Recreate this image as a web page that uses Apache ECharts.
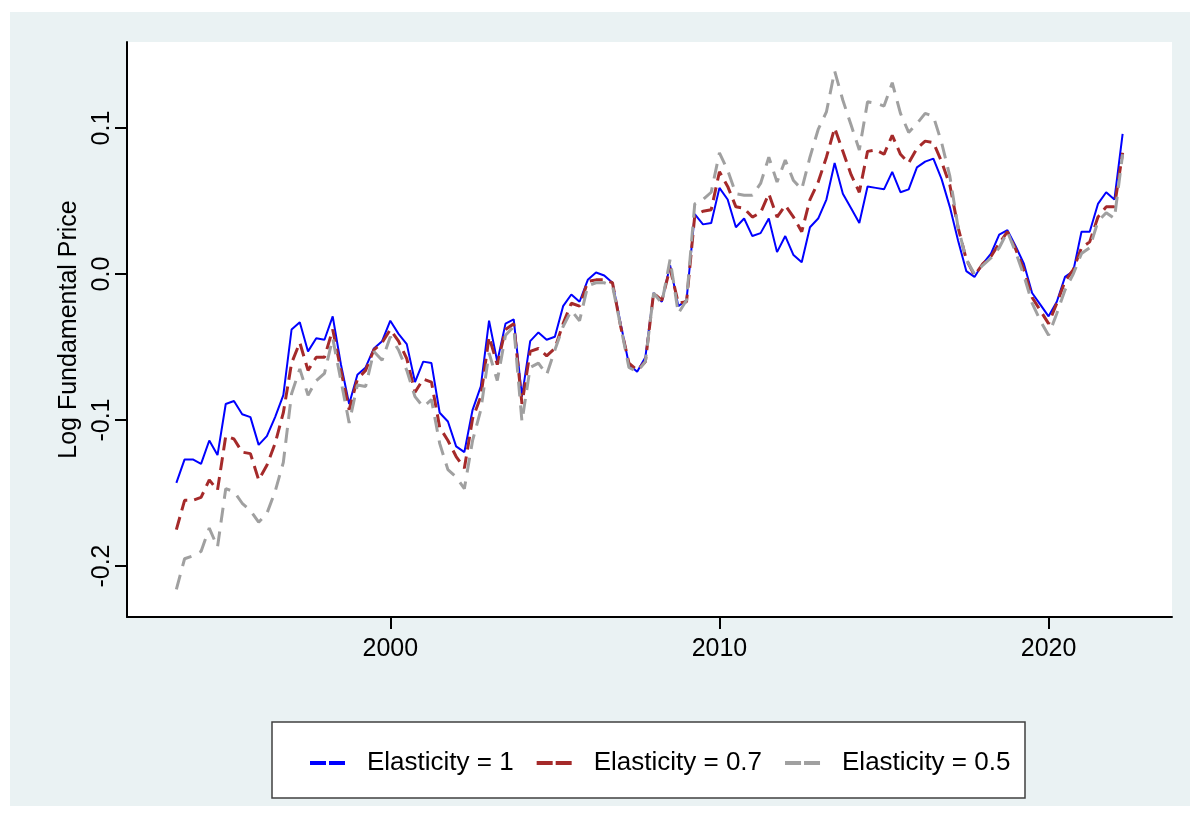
<!DOCTYPE html>
<html><head><meta charset="utf-8">
<script src="https://cdn.jsdelivr.net/npm/echarts@6/dist/echarts.min.js"></script>
<style>html,body{margin:0;padding:0;background:#fff}#c{width:1200px;height:817px}</style>
</head><body><div id="c"></div>
<script>
const quarters = [
'1993q3','1993q4',
'1994q1','1994q2','1994q3','1994q4','1995q1','1995q2','1995q3','1995q4',
'1996q1','1996q2','1996q3','1996q4','1997q1','1997q2','1997q3','1997q4',
'1998q1','1998q2','1998q3','1998q4','1999q1','1999q2','1999q3','1999q4',
'2000q1','2000q2','2000q3','2000q4','2001q1','2001q2','2001q3','2001q4',
'2002q1','2002q2','2002q3','2002q4','2003q1','2003q2','2003q3','2003q4',
'2004q1','2004q2','2004q3','2004q4','2005q1','2005q2','2005q3','2005q4',
'2006q1','2006q2','2006q3','2006q4','2007q1','2007q2','2007q3','2007q4',
'2008q1','2008q2','2008q3','2008q4','2009q1','2009q2','2009q3','2009q4',
'2010q1','2010q2','2010q3','2010q4','2011q1','2011q2','2011q3','2011q4',
'2012q1','2012q2','2012q3','2012q4','2013q1','2013q2','2013q3','2013q4',
'2014q1','2014q2','2014q3','2014q4','2015q1','2015q2','2015q3','2015q4',
'2016q1','2016q2','2016q3','2016q4','2017q1','2017q2','2017q3','2017q4',
'2018q1','2018q2','2018q3','2018q4','2019q1','2019q2','2019q3','2019q4',
'2020q1','2020q2','2020q3','2020q4','2021q1','2021q2','2021q3','2021q4',
'2022q1','2022q2'
];

const elasticity1 = [
-0.143,-0.127,
-0.127,-0.130,-0.114,-0.124,-0.089,-0.087,-0.096,-0.098,
-0.117,-0.111,-0.098,-0.083,-0.038,-0.033,-0.053,-0.044,
-0.045,-0.029,-0.062,-0.089,-0.069,-0.064,-0.051,-0.046,
-0.032,-0.041,-0.048,-0.074,-0.060,-0.061,-0.095,-0.101,
-0.118,-0.122,-0.093,-0.077,-0.032,-0.060,-0.034,-0.031,
-0.084,-0.046,-0.040,-0.045,-0.043,-0.022,-0.014,-0.019,
-0.004,0.001,-0.001,-0.006,-0.034,-0.062,-0.067,-0.057,
-0.013,-0.019,0.006,-0.022,-0.018,0.041,0.034,0.035,
0.059,0.051,0.032,0.038,0.026,0.028,0.038,0.015,
0.026,0.013,0.008,0.032,0.038,0.051,0.076,0.055,
0.045,0.035,0.060,0.059,0.058,0.070,0.056,0.058,
0.073,0.077,0.079,0.065,0.046,0.023,0.002,-0.002,
0.007,0.014,0.027,0.030,0.019,0.007,-0.013,-0.021,
-0.029,-0.019,-0.002,0.002,0.029,0.029,0.048,0.056,
0.051,0.096
];

const elasticity07 = [
-0.175,-0.155,
-0.155,-0.153,-0.141,-0.148,-0.111,-0.113,-0.122,-0.123,
-0.141,-0.131,-0.116,-0.095,-0.061,-0.047,-0.066,-0.057,
-0.057,-0.038,-0.066,-0.093,-0.072,-0.066,-0.052,-0.047,
-0.038,-0.046,-0.058,-0.081,-0.072,-0.074,-0.105,-0.114,
-0.125,-0.133,-0.099,-0.084,-0.043,-0.062,-0.038,-0.034,
-0.089,-0.053,-0.051,-0.056,-0.051,-0.034,-0.020,-0.022,
-0.005,-0.004,-0.004,-0.006,-0.036,-0.061,-0.066,-0.060,
-0.013,-0.018,0.004,-0.020,-0.019,0.040,0.043,0.044,
0.070,0.060,0.046,0.045,0.039,0.042,0.055,0.039,
0.047,0.039,0.029,0.051,0.063,0.080,0.100,0.084,
0.068,0.056,0.084,0.085,0.082,0.095,0.082,0.076,
0.086,0.091,0.090,0.077,0.061,0.032,0.010,-0.001,
0.007,0.012,0.021,0.029,0.017,0.003,-0.016,-0.025,
-0.034,-0.020,-0.005,0.003,0.018,0.022,0.039,0.046,
0.046,0.083
];

const elasticity05 = [
-0.216,-0.195,
-0.193,-0.190,-0.174,-0.187,-0.147,-0.149,-0.157,-0.162,
-0.170,-0.164,-0.149,-0.129,-0.082,-0.065,-0.083,-0.073,
-0.068,-0.044,-0.073,-0.102,-0.076,-0.077,-0.053,-0.059,
-0.043,-0.052,-0.066,-0.084,-0.091,-0.086,-0.116,-0.134,
-0.139,-0.147,-0.114,-0.093,-0.054,-0.073,-0.042,-0.036,
-0.101,-0.064,-0.061,-0.069,-0.052,-0.036,-0.025,-0.032,
-0.008,-0.006,-0.006,-0.008,-0.036,-0.064,-0.067,-0.060,
-0.013,-0.020,0.010,-0.027,-0.018,0.048,0.051,0.056,
0.083,0.071,0.055,0.054,0.054,0.062,0.080,0.063,
0.078,0.064,0.058,0.080,0.099,0.111,0.139,0.119,
0.102,0.085,0.118,0.117,0.115,0.131,0.110,0.097,
0.103,0.110,0.108,0.090,0.067,0.032,0.010,0.000,
0.006,0.011,0.018,0.029,0.015,-0.001,-0.020,-0.032,
-0.042,-0.027,-0.011,0.000,0.014,0.018,0.036,0.042,
0.038,0.082
];

const seriesNames = ['Elasticity = 1', 'Elasticity = 0.7', 'Elasticity = 0.5'];
const xTickValues = [2000, 2010, 2020];
const yTickValues = [-0.2, -0.1, 0, 0.1];
const yTitle = 'Log Fundamental Price';

function quarterToNumber(s) {
  const parts = s.split('q');
  return Number(parts[0]) + (Number(parts[1]) - 1) / 4;
}
const xs = quarters.map(quarterToNumber);
const pairUp = arr => arr.map((v, i) => [xs[i], v]);

const FONT = '"Liberation Sans", Arial, sans-serif';
const LEGEND_ICON = 'path://M0 0H16V4H0Z M19 0H35V4H19Z';
const chart = echarts.init(document.getElementById('c'), null, { renderer: 'canvas' });
chart.setOption({
  backgroundColor: '#EAF2F3',
  animation: false,
  graphic: [
    { type: 'rect', shape: { x: 0, y: 0, width: 1200, height: 12 }, style: { fill: '#fff' }, silent: true },
    { type: 'rect', shape: { x: 0, y: 806, width: 1200, height: 11 }, style: { fill: '#fff' }, silent: true },
    { type: 'rect', shape: { x: 0, y: 0, width: 10, height: 817 }, style: { fill: '#fff' }, silent: true },
    { type: 'rect', shape: { x: 1190, y: 0, width: 10, height: 817 }, style: { fill: '#fff' }, silent: true },
    { type: 'rect', shape: { x: 272, y: 722, width: 753, height: 76 }, style: { fill: '#fff', stroke: '#404040', lineWidth: 1.5 }, silent: true }
  ],
  grid: { left: 127, top: 42, right: 28, bottom: 200, show: true, backgroundColor: '#fff', borderWidth: 0 },
  xAxis: {
    type: 'value', min: 1992, max: 2023.75,
    axisLine: { onZero: false, lineStyle: { color: '#000', width: 2 } },
    axisTick: { show: true, customValues: xTickValues, length: 12, lineStyle: { color: '#000', width: 2 } },
    axisLabel: { customValues: xTickValues, color: '#000', fontSize: 25, fontFamily: FONT, margin: 20,
      formatter: v => String(Math.round(v)) },
    splitLine: { show: false }
  },
  yAxis: {
    type: 'value', min: -0.2349, max: 0.1589,
    name: yTitle, nameLocation: 'middle', nameRotate: 90, nameGap: 40,
    nameTextStyle: { color: '#000', fontSize: 25, fontFamily: FONT },
    axisLine: { show: true, onZero: false, lineStyle: { color: '#000', width: 2 } },
    axisTick: { show: true, customValues: yTickValues, length: 12, lineStyle: { color: '#000', width: 2 } },
    axisLabel: { customValues: yTickValues, rotate: 90, color: '#000', fontSize: 25, fontFamily: FONT, margin: 12,
      formatter: v => Number(v).toFixed(1) },
    splitLine: { show: false }
  },
  legend: {
    data: seriesNames, left: 305, top: 743, icon: LEGEND_ICON, itemWidth: 35, itemHeight: 4, itemGap: 23,
    textStyle: { color: '#000', fontSize: 26, fontFamily: FONT, padding: [0, 0, 0, 17], lineHeight: 30 }
  },
  series: [
    { name: seriesNames[0], type: 'line', data: pairUp(elasticity1), symbol: 'none', showSymbol: false,
      lineStyle: { color: '#0000FF', width: 2 }, itemStyle: { color: '#0000FF' } },
    { name: seriesNames[1], type: 'line', data: pairUp(elasticity07), symbol: 'none', showSymbol: false,
      lineStyle: { color: '#A52A2A', width: 3, type: [13, 7] }, itemStyle: { color: '#A52A2A' } },
    { name: seriesNames[2], type: 'line', data: pairUp(elasticity05), symbol: 'none', showSymbol: false,
      lineStyle: { color: '#A0A0A0', width: 3, type: [15, 9] }, itemStyle: { color: '#A0A0A0' } }
  ]
});
</script>
</body></html>
